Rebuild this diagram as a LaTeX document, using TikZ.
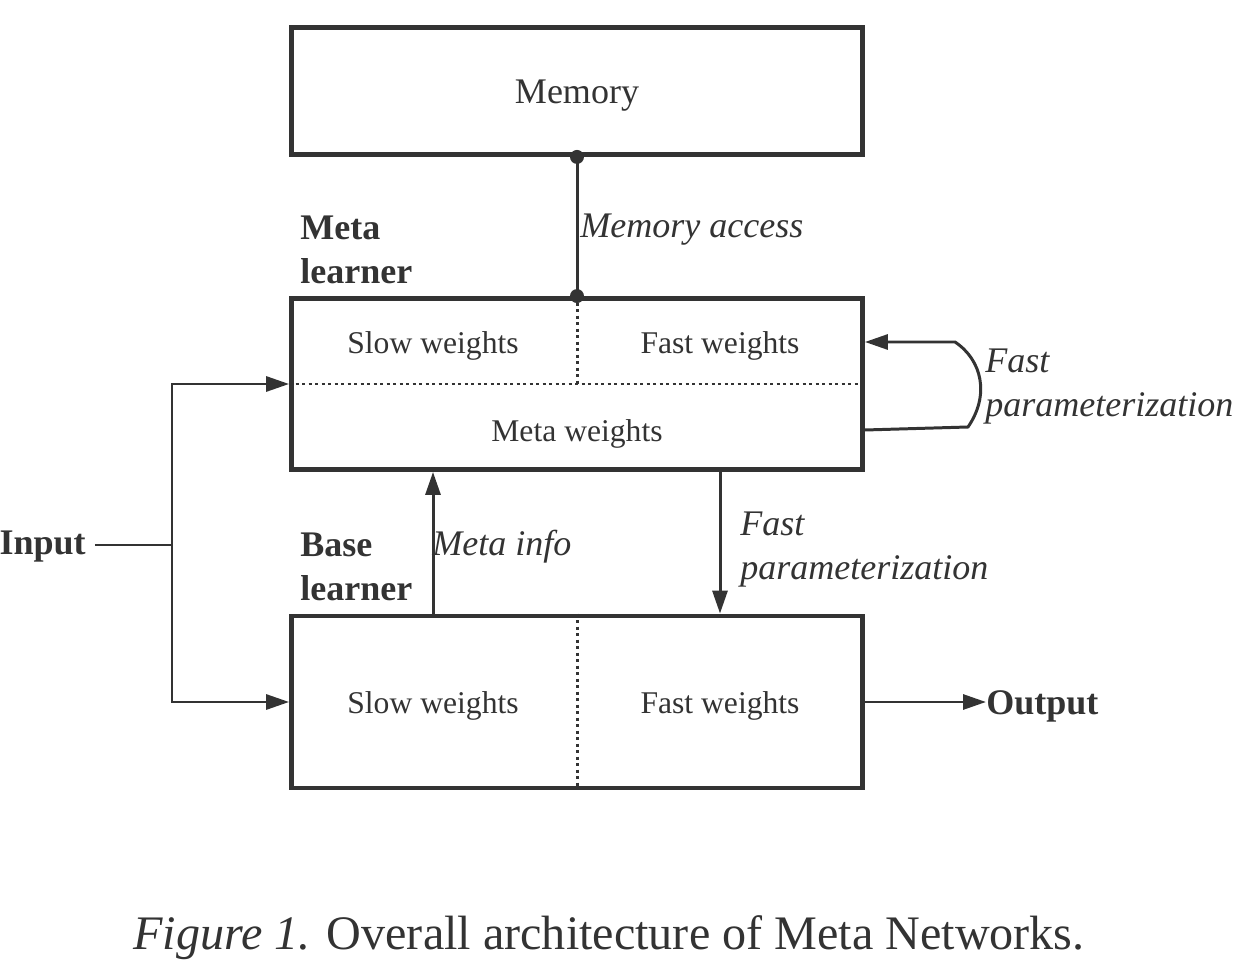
\documentclass[tikz,border=0pt]{standalone}
\usepackage{fontspec}
\setmainfont{Liberation Serif}
\usepackage{tikz}
\usetikzlibrary{arrows.meta,positioning}
\usepackage{xcolor}
\definecolor{ink}{HTML}{333333}

\begin{document}
\begin{tikzpicture}[x=0.02cm, y=-0.02cm, color=ink, text=ink,
  box/.style={draw, line width=2.8pt, minimum width=11.42cm, inner sep=0pt},
  part/.style={font=\fontsize{18}{21}\selectfont, inner sep=0pt},
  tag/.style={font=\fontsize{20.5}{25}\selectfont\bfseries, align=left, inner sep=0pt},
  note/.style={font=\fontsize{20.5}{25}\selectfont\itshape, align=left, inner sep=0pt},
  link/.style={line width=1.7pt},
  arrow/.style={link, -{Triangle[length=0.46cm, width=0.3cm]}},
  divider/.style={line width=1.7pt, dotted}
]
\useasboundingbox (0,0) rectangle (1240,979);

\node[box, minimum height=2.54cm] (mem) at (577,91) {};
\node[part, font=\fontsize{20.5}{25}\selectfont] (memtext) at (577,96) {Memory};

\node[box, minimum height=3.42cm] (meta) at (577,384) {};
\node[part] (mslow) at (433,346) {Slow weights};
\node[part] (mfast) at (720,346) {Fast weights};
\node[part] (mmeta) at (577,434) {Meta weights};
\draw[divider] (meta.west) -- (meta.east);
\draw[divider] (meta.north) -- (meta.center);

\node[box, minimum height=3.44cm] (base) at (577,702) {};
\node[part] (bslow) at (433,706) {Slow weights};
\node[part] (bfast) at (720,706) {Fast weights};
\draw[divider] (base.north) -- (base.south);

% memory access
\draw[link] (mem.south) -- (meta.north);
\fill (mem.south) circle (0.14cm);
\fill (meta.north) circle (0.14cm);
\node[note, anchor=west] (access) at (580,230) {Memory access};

\node[tag, anchor=west] (metatag) at (300,250) {Meta\\learner};
\node[tag, anchor=west] (basetag) at (300,567) {Base\\learner};

% between the learners
\draw[arrow] (bslow |- base.north) -- (bslow |- meta.south);
\node[note, anchor=west] (info) at (432,547) {Meta info};
\draw[arrow] (mfast |- meta.south) -- (mfast |- base.north);
\node[note, anchor=west] (fastp) at (740,550) {Fast\\parameterization};

% input and output
\node[tag, anchor=east] (input) at (86,547) {Input};
\coordinate (split) at (172,545);
\draw[link] (input.east |- split) ++(0.18cm,0) -- (split);
\draw[arrow] (split) |- (meta.west);
\draw[arrow] (split) |- (base.west);
\node[tag, anchor=west] (output) at (986,706) {Output};
\draw[arrow] (base.east) -- (base.east -| output.west);

% self loop
\coordinate (loopA) at (968,427);
\coordinate (loopB) at (955,342);
\draw[arrow] (meta.east |- 0,430) -- (loopA) .. controls (990,395) and (982,360) .. (loopB) -- (meta.east |- loopB);
\node[note, anchor=west] (selfp) at (985,387) {Fast\\parameterization};

\node[font=\fontsize{27.4}{32}\selectfont, inner sep=0pt] (caption) at (609,938) {\textit{Figure 1.} Overall architecture of Meta Networks.};
\end{tikzpicture}
\end{document}
